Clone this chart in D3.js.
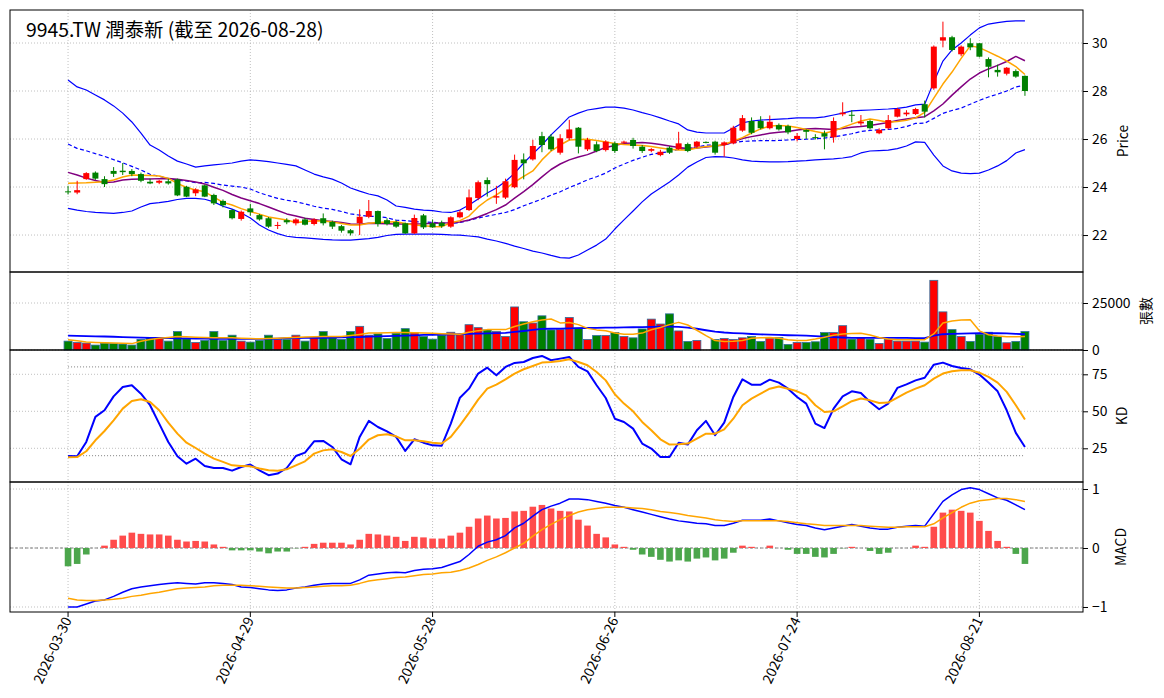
<!DOCTYPE html>
<html>
<head>
<meta charset="utf-8">
<script src="https://cdn.jsdelivr.net/npm/d3@7"></script>
<style>
  body { margin: 0; background: #fff; }
  svg text { font-family: "Noto Sans CJK TC", "Noto Sans", "DejaVu Sans", sans-serif; }
</style>
</head>
<body>
<svg id="chart" width="1164" height="698"></svg>
<script>
// ---- data (106 trading days) ----
const tickIdx = [0, 20, 40, 60, 80, 100];
const tickLabels = ["2026-03-30", "2026-04-29", "2026-05-28", "2026-06-26", "2026-07-24", "2026-08-21"];

const opens = [23.82,23.77,24.33,24.6,24.33,24.67,24.68,24.67,24.54,24.22,
  24.18,24.24,24.32,24.01,23.74,24.07,23.67,23.42,23.04,22.67,
  23.11,22.83,22.7,22.38,22.62,22.49,22.65,22.46,22.7,22.55,
  22.37,22.2,22.49,22.76,23.0,22.62,22.54,22.49,22.07,22.82,
  22.49,22.51,22.35,22.74,23.04,23.54,24.29,23.56,23.56,23.99,
  25.15,25.15,26.12,26.1,25.43,26.03,26.47,25.57,25.78,25.54,
  25.82,25.85,25.96,25.68,25.51,25.33,25.64,25.58,25.79,25.68,
  25.88,25.89,25.75,25.82,26.35,26.75,26.75,26.45,26.58,26.54,
  26.0,26.38,26.08,26.24,26.07,27.03,27.01,26.65,26.75,26.24,
  26.45,26.93,27.03,27.04,27.45,28.11,30.1,30.24,29.53,29.99,
  29.99,29.33,28.88,28.72,28.83,28.63];
const highs = [24.05,24.26,24.62,24.65,24.45,24.83,25.0,24.75,24.6,24.35,
  24.3,24.35,24.35,24.05,23.95,24.1,23.72,23.48,23.08,23.02,
  23.3,22.88,22.75,22.55,22.7,22.7,22.72,22.7,22.9,22.6,
  22.42,22.25,23.07,23.46,23.02,22.7,22.62,22.52,22.85,22.88,
  22.65,22.6,22.78,23.05,23.9,24.27,24.4,24.05,24.35,25.35,
  25.4,25.97,26.3,26.2,26.2,26.8,26.5,26.05,25.9,25.95,
  25.9,25.93,26.05,25.75,25.62,25.55,25.7,26.3,25.85,25.92,
  25.9,25.93,25.9,26.55,27.0,26.9,26.95,26.98,26.65,26.6,
  26.25,26.4,26.2,26.35,26.9,27.53,27.2,27.0,26.8,26.45,
  27.0,27.3,27.2,27.3,27.6,29.9,30.89,30.3,29.9,30.2,
  30.0,29.4,29.1,29.0,28.9,28.65];
const lows = [23.69,23.7,24.3,24.3,24.0,24.42,24.5,24.45,24.2,24.12,
  24.12,24.1,23.62,23.58,23.62,23.58,23.25,23.15,22.65,22.6,
  22.8,22.6,22.3,22.25,22.45,22.4,22.4,22.4,22.4,22.25,
  22.1,21.98,22.0,22.7,22.35,22.4,22.3,22.05,22.05,22.25,
  22.3,22.3,22.3,22.7,23.0,23.45,23.6,23.3,23.5,23.95,
  24.32,25.1,25.45,25.5,25.35,25.95,25.4,25.5,25.45,25.48,
  25.42,25.8,25.6,25.42,25.45,25.28,25.38,25.55,25.45,25.62,
  25.82,25.35,25.26,25.78,26.3,26.2,26.4,26.4,26.35,26.2,
  25.9,26.0,25.98,25.57,25.85,26.95,26.7,26.55,26.4,26.2,
  26.4,26.9,26.95,27.0,26.9,28.05,29.82,29.65,29.45,29.7,
  29.4,28.57,28.6,28.65,28.55,27.8];
const closes = [23.78,23.87,24.58,24.35,24.12,24.55,24.62,24.54,24.26,24.15,
  24.26,24.15,23.65,23.6,23.9,23.6,23.32,23.24,22.7,22.97,
  22.95,22.65,22.35,22.42,22.53,22.65,22.43,22.65,22.49,22.35,
  22.18,22.07,22.76,23.0,22.46,22.46,22.35,22.07,22.71,22.32,
  22.32,22.37,22.74,22.95,23.57,24.2,24.12,23.62,24.24,25.13,
  24.99,25.71,25.75,25.57,26.03,26.4,25.68,25.96,25.5,25.89,
  25.5,25.89,25.71,25.5,25.58,25.47,25.43,25.82,25.5,25.89,
  25.85,25.43,25.86,26.47,26.87,26.26,26.45,26.72,26.4,26.28,
  26.13,26.3,26.06,26.1,26.75,27.1,26.99,26.72,26.45,26.38,
  26.79,27.25,27.1,27.25,27.14,29.85,30.24,29.71,29.85,29.82,
  29.43,29.01,28.78,28.97,28.6,28.0];

const ma5 = [24.16,24.17,24.18,24.2,24.22,24.29,24.42,24.5,24.49,24.48,
  24.46,24.36,24.15,23.98,23.88,23.8,23.58,23.36,23.25,23.1,
  22.98,22.87,22.75,22.69,22.63,22.52,22.55,22.6,22.58,22.54,
  22.48,22.42,22.42,22.49,22.52,22.54,22.55,22.48,22.42,22.39,
  22.36,22.35,22.51,22.6,22.79,23.17,23.46,23.67,23.92,24.21,
  24.44,24.67,25.13,25.5,25.75,25.96,25.98,25.99,25.94,25.88,
  25.81,25.77,25.75,25.73,25.69,25.63,25.57,25.54,25.54,25.63,
  25.69,25.71,25.77,25.92,26.06,26.25,26.42,26.54,26.56,26.54,
  26.48,26.4,26.31,26.24,26.33,26.48,26.62,26.75,26.83,26.77,
  26.7,26.73,26.78,26.88,27.11,27.7,28.29,28.79,29.36,29.88,
  29.81,29.63,29.45,29.25,29.02,28.69];
const ma10 = [24.61,24.5,24.37,24.27,24.19,24.21,24.29,24.32,24.33,24.33,
  24.35,24.36,24.32,24.27,24.21,24.13,23.99,23.86,23.69,23.54,
  23.43,23.31,23.17,23.02,22.88,22.79,22.7,22.65,22.6,22.56,
  22.52,22.46,22.45,22.49,22.48,22.47,22.46,22.46,22.46,22.47,
  22.49,22.5,22.51,22.54,22.63,22.75,22.9,23.06,23.25,23.54,
  23.81,24.1,24.42,24.73,24.96,25.13,25.25,25.35,25.5,25.65,
  25.73,25.82,25.83,25.85,25.82,25.77,25.71,25.65,25.61,25.63,
  25.67,25.71,25.75,25.88,26.02,26.1,26.17,26.24,26.28,26.31,
  26.38,26.42,26.44,26.42,26.4,26.44,26.49,26.52,26.56,26.63,
  26.69,26.77,26.83,26.89,26.93,27.17,27.46,27.83,28.17,28.5,
  28.75,28.92,29.07,29.23,29.44,29.26];
const bbUpper = [28.46,28.17,28.04,27.83,27.63,27.38,27.08,26.71,26.25,25.75,
  25.54,25.29,25.08,24.96,24.83,24.88,24.92,24.96,25.0,25.08,
  25.13,25.1,25.06,25.0,24.94,24.88,24.71,24.54,24.42,24.33,
  24.17,23.96,23.83,23.71,23.63,23.46,23.21,23.15,23.08,23.04,
  23.02,22.96,22.94,23.04,23.25,23.5,23.75,23.96,24.23,24.58,
  25.0,25.38,25.75,26.17,26.54,26.92,27.08,27.21,27.27,27.33,
  27.33,27.29,27.21,27.1,27.0,26.88,26.75,26.63,26.38,26.29,
  26.25,26.25,26.25,26.46,26.67,26.75,26.79,26.81,26.83,26.85,
  26.88,26.88,26.88,26.92,27.0,27.08,27.17,27.19,27.21,27.23,
  27.25,27.28,27.33,27.42,27.45,28.38,29.25,29.71,30.0,30.33,
  30.63,30.79,30.85,30.9,30.92,30.92];
const bbMid = [25.79,25.61,25.51,25.39,25.28,25.14,25.01,24.86,24.71,24.53,
  24.45,24.35,24.28,24.25,24.18,24.19,24.15,24.08,24.04,24.0,
  23.92,23.76,23.64,23.53,23.45,23.39,23.3,23.2,23.12,23.07,
  22.98,22.88,22.83,22.78,22.77,22.72,22.62,22.6,22.56,22.54,
  22.53,22.5,22.48,22.52,22.61,22.71,22.79,22.86,22.94,23.06,
  23.22,23.36,23.5,23.66,23.8,23.98,24.13,24.3,24.43,24.58,
  24.79,24.96,25.11,25.24,25.36,25.42,25.48,25.57,25.61,25.67,
  25.74,25.76,25.76,25.84,25.9,25.92,25.93,25.93,25.94,25.96,
  25.98,25.99,26.01,26.04,26.09,26.15,26.22,26.31,26.36,26.38,
  26.4,26.44,26.52,26.65,26.66,26.86,27.07,27.19,27.29,27.45,
  27.61,27.75,27.87,28.0,28.17,28.24];
const bbLower = [23.11,23.04,22.98,22.94,22.92,22.9,22.94,23.0,23.17,23.31,
  23.35,23.4,23.48,23.53,23.53,23.49,23.38,23.2,23.08,22.92,
  22.71,22.42,22.21,22.06,21.95,21.9,21.88,21.85,21.82,21.8,
  21.79,21.79,21.82,21.85,21.9,21.98,22.03,22.04,22.04,22.04,
  22.04,22.03,22.01,22.0,21.96,21.92,21.83,21.75,21.65,21.54,
  21.44,21.33,21.25,21.15,21.06,21.04,21.17,21.38,21.58,21.83,
  22.25,22.63,23.0,23.38,23.71,23.96,24.21,24.5,24.83,25.04,
  25.23,25.27,25.26,25.21,25.13,25.08,25.06,25.05,25.05,25.06,
  25.08,25.1,25.13,25.15,25.17,25.21,25.27,25.42,25.5,25.52,
  25.54,25.6,25.71,25.88,25.86,25.33,24.88,24.67,24.58,24.56,
  24.58,24.71,24.88,25.1,25.42,25.56];

const volumes = [4720,4020,3670,2620,3670,3500,3150,2620,5590,6470,
  6470,4720,9790,5940,4020,5070,9790,5070,7870,4720,
  4200,5070,7870,5590,5590,7870,4720,6470,9790,6470,
  5590,9790,12590,7870,8570,6120,8910,11360,9090,7170,
  5770,7870,9440,8040,13460,11890,10660,9790,7170,22900,
  15030,14330,18180,10660,10840,17300,11710,5590,7690,7690,
  9260,7170,6470,11190,16430,13810,19230,10140,4540,5070,
  0,5590,6120,5590,6470,7170,4540,6290,6640,2970,
  4020,4020,4370,9260,9260,12940,5770,6640,5770,3500,
  5770,4720,4720,4720,4200,37060,20280,10840,7170,4540,
  8390,9440,7170,3850,4540,9790];
const volMa5 = [5420,4900,4300,4000,3800,3700,3600,3400,4700,5600,
  6200,6700,7170,7000,6800,6600,6470,6470,6470,6300,
  6120,5940,6100,6300,6470,6700,6900,7000,7170,7170,
  7170,7700,8300,9000,9100,9200,9260,9260,9200,9000,
  8900,8700,8500,8400,9400,10300,10840,10840,10840,12500,
  13800,15000,16000,16500,14400,14600,13500,11500,10700,10200,
  9000,8390,8390,9000,10800,12000,13500,14700,13300,10500,
  7600,5000,4500,4600,5000,6200,6500,6600,6300,5500,
  5100,5000,5800,6800,7800,8570,8800,8900,8000,6700,
  5900,5420,5420,5420,5500,8570,14400,15400,15900,16080,
  10200,8100,7400,7000,7000,7200];
const volMa20 = [7690,7550,7420,7300,7180,7060,6900,6750,6600,6470,
  6380,6300,6220,6150,6080,6020,5970,5940,5940,5940,
  5940,5940,5960,6100,6290,6350,6400,6440,6470,6600,
  6700,6800,6900,7100,7250,7340,7500,7650,7800,8000,
  8040,8150,8300,8450,8570,8700,8850,9000,9090,9600,
  10100,10700,11190,11300,11400,11500,11600,11700,11800,11890,
  11900,12000,12100,12200,12300,12410,12400,12300,11890,11300,
  10500,9800,9300,9000,8800,8500,8300,8150,8000,7850,
  7750,7650,7400,7100,6850,6650,6470,6470,6470,6470,
  6470,6470,6400,6300,6290,7600,8390,8600,8700,8800,
  8910,8910,8910,8800,8600,8390];

const kValues = [19.8,19.6,29.3,46.2,50.7,60.1,66.4,67.6,61.9,54.1,
  41.7,29.3,19.6,14.6,18.0,13.1,11.7,11.7,9.9,12.4,
  14.0,10.1,6.8,7.9,11.7,19.8,22.1,29.7,30.0,25.9,
  17.6,14.2,32.7,43.5,39.4,36.5,32.7,23.2,31.1,28.8,
  27.0,26.8,41.7,59.2,65.3,75.5,79.5,74.3,80.0,82.7,
  83.3,86.0,87.4,84.5,85.6,86.7,80.0,77.0,67.6,59.0,
  45.0,42.8,38.3,28.2,24.8,19.1,19.1,28.8,27.5,37.2,
  43.5,33.8,42.3,59.7,71.6,68.0,68.0,71.4,69.4,65.3,
  59.7,55.2,41.7,38.7,51.8,60.1,63.5,62.4,56.3,51.4,
  55.2,65.8,68.2,70.9,72.7,81.5,82.9,80.6,79.3,78.4,
  74.8,69.4,63.5,50.7,35.4,25.9];
const dValues = [18.9,19.1,23.0,30.4,36.7,43.9,51.8,57.0,58.1,56.3,
  50.7,42.3,34.9,28.8,25.2,21.4,18.0,15.8,13.5,13.1,
  12.8,11.3,10.1,9.9,10.8,13.5,16.2,21.4,23.6,24.3,
  22.5,19.8,24.7,30.9,33.8,34.5,33.1,30.4,30.4,29.7,
  28.8,28.2,32.7,40.5,48.9,57.9,65.3,68.0,71.6,75.5,
  78.4,80.6,82.9,83.3,84.0,85.1,83.3,81.1,76.6,70.9,
  61.5,55.2,50.0,42.8,37.2,31.1,27.5,27.7,28.2,31.5,
  34.9,34.9,37.8,45.0,54.1,58.6,61.9,65.3,66.7,65.3,
  63.5,60.8,54.1,49.5,50.0,53.4,56.8,58.6,57.4,55.6,
  55.9,59.2,62.6,65.3,67.6,72.1,75.5,77.0,77.7,77.7,
  76.1,73.2,69.4,63.1,54.1,44.4];

const difValues = [-1.0,-1.0,-0.95,-0.9,-0.88,-0.82,-0.75,-0.69,-0.66,-0.64,
  -0.62,-0.6,-0.59,-0.6,-0.61,-0.59,-0.59,-0.6,-0.62,-0.66,
  -0.67,-0.69,-0.71,-0.72,-0.71,-0.68,-0.66,-0.63,-0.61,-0.6,
  -0.6,-0.6,-0.54,-0.46,-0.44,-0.42,-0.41,-0.42,-0.38,-0.36,
  -0.35,-0.33,-0.28,-0.23,-0.11,0.03,0.1,0.14,0.21,0.34,
  0.42,0.54,0.65,0.71,0.76,0.83,0.83,0.82,0.79,0.76,
  0.72,0.69,0.65,0.61,0.57,0.53,0.49,0.46,0.44,0.42,
  0.41,0.38,0.38,0.42,0.47,0.47,0.47,0.49,0.46,0.43,
  0.4,0.38,0.34,0.31,0.34,0.37,0.4,0.37,0.34,0.32,
  0.32,0.35,0.37,0.38,0.37,0.58,0.79,0.9,0.99,1.02,
  0.99,0.92,0.85,0.81,0.73,0.65];
const deaValues = [-0.85,-0.88,-0.89,-0.89,-0.88,-0.87,-0.85,-0.82,-0.8,-0.77,
  -0.75,-0.72,-0.69,-0.68,-0.67,-0.66,-0.64,-0.63,-0.63,-0.63,
  -0.64,-0.65,-0.66,-0.67,-0.68,-0.68,-0.67,-0.66,-0.65,-0.64,
  -0.64,-0.63,-0.6,-0.56,-0.54,-0.52,-0.5,-0.49,-0.47,-0.45,
  -0.44,-0.42,-0.41,-0.38,-0.34,-0.28,-0.21,-0.15,-0.08,0.0,
  0.08,0.2,0.31,0.4,0.48,0.55,0.61,0.65,0.67,0.69,
  0.69,0.69,0.68,0.67,0.65,0.62,0.6,0.58,0.55,0.53,
  0.51,0.48,0.46,0.45,0.46,0.46,0.46,0.46,0.46,0.45,
  0.43,0.41,0.4,0.38,0.38,0.38,0.38,0.38,0.37,0.36,
  0.35,0.35,0.36,0.36,0.36,0.41,0.51,0.6,0.69,0.76,
  0.8,0.82,0.84,0.84,0.82,0.79];
const oscValues = [-0.31,-0.27,-0.11,0.0,0.04,0.14,0.21,0.26,0.24,0.23,
  0.23,0.21,0.14,0.11,0.12,0.11,0.06,0.02,-0.04,-0.04,
  -0.04,-0.06,-0.09,-0.06,-0.06,-0.005,0.02,0.07,0.09,0.09,
  0.09,0.06,0.14,0.24,0.23,0.21,0.19,0.12,0.19,0.18,
  0.16,0.16,0.21,0.26,0.36,0.5,0.55,0.5,0.51,0.62,
  0.63,0.7,0.73,0.67,0.63,0.62,0.48,0.38,0.24,0.18,
  0.06,0.02,-0.03,-0.11,-0.15,-0.2,-0.23,-0.21,-0.23,-0.18,
  -0.16,-0.21,-0.18,-0.08,0.04,0.02,0.0,0.04,0.0,-0.03,
  -0.1,-0.1,-0.15,-0.16,-0.1,-0.005,0.02,0.0,-0.05,-0.1,
  -0.08,0.0,0.0,0.04,0.02,0.36,0.6,0.65,0.63,0.6,
  0.46,0.29,0.12,0.02,-0.1,-0.27];

// ---- layout ----
const W = 1164, H = 698;
const left = 10, right = 1083;
const panels = {
  price: { top: 10, bottom: 272, domain: [20.46, 31.375], ticks: [22, 24, 26, 28, 30], label: "Price", labelX: 1122 },
  vol:   { top: 272, bottom: 350, domain: [0, 41490], ticks: [0, 25000], label: "張數", labelX: 1145 },
  kd:    { top: 350, bottom: 482, domain: [2.23, 91.42], ticks: [25, 50, 75], label: "KD", labelX: 1121 },
  macd:  { top: 482, bottom: 612, domain: [-1.085, 1.119], ticks: [-1, 0, 1], label: "MACD", labelX: 1120 }
};

const svg = d3.select("#chart");
svg.append("rect").attr("width", W).attr("height", H).attr("fill", "#fff");

const x = d3.scaleLinear().domain([-6.37, closes.length - 1 + 6.37]).range([left, right]);

Object.values(panels).forEach(p => {
  p.y = d3.scaleLinear().domain(p.domain).range([p.bottom, p.top]);
  p.g = svg.append("g");
});

// grid
Object.values(panels).forEach(p => {
  p.g.selectAll(".vgrid").data(tickIdx).join("line")
    .attr("x1", d => x(d)).attr("x2", d => x(d))
    .attr("y1", p.top).attr("y2", p.bottom)
    .attr("stroke", "#b0b0b0").attr("stroke-width", 0.8).attr("stroke-dasharray", "1,2");
  p.g.selectAll(".hgrid").data(p.ticks).join("line")
    .attr("x1", left).attr("x2", right)
    .attr("y1", d => p.y(d)).attr("y2", d => p.y(d))
    .attr("stroke", "#b0b0b0").attr("stroke-width", 0.8).attr("stroke-dasharray", "1,2");
});

const lineGen = (yScale) => d3.line().x((d, i) => x(i)).y(d => yScale(d));

function drawLine(p, values, color, width, dash) {
  p.g.append("path").datum(values)
    .attr("fill", "none").attr("stroke", color).attr("stroke-width", width)
    .attr("stroke-dasharray", dash || null)
    .attr("stroke-linejoin", "round")
    .attr("d", lineGen(p.y));
}

// ---- price panel ----
const pp = panels.price;
drawLine(pp, bbUpper, "#0000ff", 1.2);
drawLine(pp, bbLower, "#0000ff", 1.2);
drawLine(pp, bbMid, "#0000ff", 1.2, "4,2.5");
drawLine(pp, ma10, "#800080", 1.5);
drawLine(pp, ma5, "#ffa500", 1.5);

const candles = closes.map((c, i) => ({ i, o: opens[i], h: highs[i], l: lows[i], c }));
const candleColor = d => d.c >= d.o ? "#ff0000" : "#008000";
pp.g.selectAll(".wick").data(candles).join("line")
  .attr("x1", d => x(d.i)).attr("x2", d => x(d.i))
  .attr("y1", d => pp.y(d.h)).attr("y2", d => pp.y(d.l))
  .attr("stroke", candleColor).attr("stroke-width", 1);
pp.g.selectAll(".body").data(candles).join("rect")
  .attr("x", d => x(d.i) - 3).attr("width", 6)
  .attr("y", d => pp.y(Math.max(d.o, d.c)))
  .attr("height", d => Math.max(1, Math.abs(pp.y(d.o) - pp.y(d.c))))
  .attr("fill", candleColor);

// ---- volume panel ----
const vp = panels.vol;
vp.g.selectAll(".vbar").data(volumes).join("rect")
  .attr("x", (d, i) => x(i) - 4).attr("width", 8)
  .attr("y", d => vp.y(d)).attr("height", d => vp.y(0) - vp.y(d))
  .attr("fill", (d, i) => candleColor(candles[i]))
  .attr("stroke", "#2f6f9f").attr("stroke-width", 0.8);
drawLine(vp, volMa20, "#0000ff", 1.8);
drawLine(vp, volMa5, "#ffa500", 1.5);

// ---- KD panel ----
const kp = panels.kd;
[20, 80].forEach(v => {
  kp.g.append("line")
    .attr("x1", x(0)).attr("x2", x(closes.length - 1))
    .attr("y1", kp.y(v)).attr("y2", kp.y(v))
    .attr("stroke", "#808080").attr("stroke-width", 1).attr("stroke-dasharray", "1,2");
});
drawLine(kp, kValues, "#0000ff", 2);
drawLine(kp, dValues, "#ffa500", 2);

// ---- MACD panel ----
const mp = panels.macd;
mp.g.append("line")
  .attr("x1", left).attr("x2", right)
  .attr("y1", mp.y(0)).attr("y2", mp.y(0))
  .attr("stroke", "#808080").attr("stroke-width", 1).attr("stroke-dasharray", "3,2");
mp.g.selectAll(".osc").data(oscValues).join("rect")
  .attr("x", (d, i) => x(i) - 3.3).attr("width", 6.6)
  .attr("y", d => mp.y(Math.max(0, d)))
  .attr("height", d => Math.abs(mp.y(d) - mp.y(0)))
  .attr("fill", d => d >= 0 ? "#ff4c4c" : "#4ca64c");
drawLine(mp, difValues, "#0000ff", 1.5);
drawLine(mp, deaValues, "#ffa500", 1.5);

// ---- frames, right axes, labels ----
Object.values(panels).forEach(p => {
  svg.append("rect")
    .attr("x", left).attr("y", p.top)
    .attr("width", right - left).attr("height", p.bottom - p.top)
    .attr("fill", "none").attr("stroke", "#000").attr("stroke-width", 1);

  const axis = d3.axisRight(p.y).tickValues(p.ticks).tickSize(5).tickPadding(4)
    .tickFormat(d3.format("d"));
  const ag = svg.append("g").attr("transform", `translate(${right},0)`).call(axis);
  ag.select(".domain").remove();
  ag.selectAll("text").attr("font-size", 13.9).attr("fill", "#000")
    .style("font-family", '"Noto Sans CJK TC", "Noto Sans", sans-serif');

  svg.append("text")
    .attr("transform", `translate(${p.labelX},${(p.top + p.bottom) / 2}) rotate(-90)`)
    .attr("text-anchor", "middle").attr("dominant-baseline", "central")
    .attr("font-size", 13.9).text(p.label);
});

// bottom date axis
const xg = svg.append("g");
xg.selectAll(".xtick").data(tickIdx).join("line")
  .attr("x1", d => x(d)).attr("x2", d => x(d))
  .attr("y1", 612).attr("y2", 617)
  .attr("stroke", "#000");
xg.selectAll(".xlabel").data(tickIdx).join("text")
  .attr("transform", d => `translate(${x(d) + 4},${620}) rotate(-65)`)
  .attr("text-anchor", "end")
  .attr("font-size", 13.9)
  .text((d, k) => tickLabels[k]);

// title
svg.append("text")
  .attr("x", 26).attr("y", 37)
  .attr("font-size", 19.4)
  .text("9945.TW 潤泰新 (截至 2026-08-28)");
</script>
</body>
</html>
